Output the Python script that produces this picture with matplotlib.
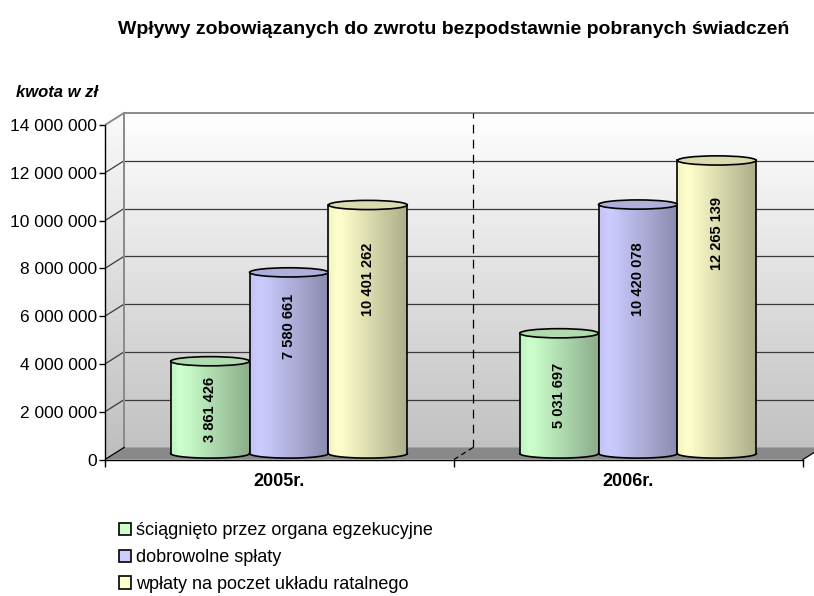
import numpy as np
import matplotlib
matplotlib.use('Agg')
import matplotlib.pyplot as plt
from matplotlib.patches import Polygon, Ellipse, PathPatch, Rectangle
from matplotlib.path import Path

# ---- data ----
categories = ['2005r.', '2006r.']
series_names = ['ściągnięto przez organa egzekucyjne',
                'dobrowolne spłaty',
                'wpłaty na poczet układu ratalnego']
egzekucja = [3861426, 5031697]
dobrowolne = [7580661, 10420078]
ratalne = [10401262, 12265139]
y_ticks = [0, 2000000, 4000000, 6000000, 8000000, 10000000, 12000000, 14000000]
title = 'Wpływy zobowiązanych do zwrotu bezpodstawnie pobranych świadczeń'
y_label = 'kwota w zł'
colors = ['#CCFFCC', '#CCCCFF', '#FFFFCC']

plt.rcParams['font.family'] = ['Liberation Sans', 'DejaVu Sans']

W, H = 814, 596
fig = plt.figure(figsize=(W / 100, H / 100), dpi=100)

# front plane pixel mapping
fx0, fx1 = 105.0, 803.0          # x of category 0 and 2 (front)
fy0, fy1 = 459.5, 125.0          # y (from top) of 0 and 14M (front)
pxx = 2.0 / (fx1 - fx0)
pxy = 14e6 / (fy0 - fy1)
DX = 19 * pxx
DY = 12 * pxy

ax_left_px, ax_right_px = fx0, W
ax_top_px, ax_bot_px = 95.0, 475.0
ax = fig.add_axes([ax_left_px / W, 1 - ax_bot_px / H,
                   (ax_right_px - ax_left_px) / W, (ax_bot_px - ax_top_px) / H])
xlim = (0, (ax_right_px - fx0) * pxx)
ylim = (-(ax_bot_px - fy0) * pxy, (fy0 - ax_top_px) * pxy)
ax.patch.set_visible(False)

ymax = y_ticks[-1]

# ---- back wall gradient ----
grad = np.linspace(1.0, 0.76, 256)[:, None]
wall = np.dstack([grad, grad, grad])
ax.imshow(wall, extent=[DX, xlim[1] + 0.1, DY, ymax + DY], aspect='auto',
          interpolation='bilinear', zorder=0)
side = Polygon([(0, 0), (DX, DY), (DX, ymax + DY), (0, ymax)], closed=True,
               facecolor='none', edgecolor='none', transform=ax.transData)
ax.add_patch(side)
im = ax.imshow(wall * 0.98, extent=[0, DX, 0, ymax + DY], aspect='auto',
               interpolation='bilinear', zorder=0)
im.set_clip_path(side)

for v in y_ticks[1:]:
    col = '#8a8a8a' if v == ymax else '#3a3a3a'
    lw = 1.4 if v == ymax else 0.9
    ax.plot([DX, xlim[1] + 0.1], [v + DY, v + DY], color=col, lw=lw, zorder=1)
    ax.plot([0, DX], [v, v + DY], color=col, lw=lw, zorder=1)
ax.plot([DX, DX], [DY, ymax + DY], color='#8a8a8a', lw=1.4, zorder=1)
ax.plot([1 + DX, 1 + DX], [DY, ymax + DY], color='black', lw=0.9,
        dashes=(7, 5), zorder=1)

# ---- floor ----
floor = Polygon([(0, 0), (2, 0), (2 + DX, DY), (DX, DY)], closed=True,
                facecolor='#898989', edgecolor='none', zorder=2)
ax.add_patch(floor)
ax.plot([2, 2 + DX], [0, DY], color='black', lw=0.9, zorder=2)
ax.plot([1, 1 + DX], [0, DY], color='black', lw=0.9, dashes=(4, 3), zorder=2)
ax.plot([0, DX], [0, DY], color='black', lw=0.9, zorder=2)

# ---- cylinders ----
series = [egzekucja, dobrowolne, ratalne]
bw = 0.226
b_ell = 4.6 * pxy
t = np.linspace(0, 1, 200)
prof = np.interp(t, [0, 0.12, 0.2, 1.0], [0.95, 1.0, 0.98, 0.68])


def rgb(h):
    h = h.lstrip('#')
    return np.array([int(h[i:i + 2], 16) / 255 for i in (0, 2, 4)])


z = 5
for ci, cat in enumerate(categories):
    for si, vals in enumerate(series):
        v = vals[ci]
        xc = ci + 0.5 + (si - 1) * bw + DX / 2
        xl, xr = xc - bw / 2, xc + bw / 2
        yb = DY / 2
        yt = v + DY / 2
        a = bw / 2
        th = np.linspace(np.pi, 2 * np.pi, 60)
        arc = np.column_stack([xc + a * np.cos(th), yb + b_ell * np.sin(th)])
        verts = np.vstack([[xl, yt], [xl, yb], arc, [xr, yb], [xr, yt], [xl, yt]])
        codes = [Path.MOVETO] + [Path.LINETO] * (len(verts) - 2) + [Path.CLOSEPOLY]
        body = PathPatch(Path(verts, codes), facecolor='none', edgecolor='none',
                         zorder=z)
        ax.add_patch(body)
        base = rgb(colors[si])
        img = np.clip(prof[:, None] * base[None, :], 0, 1)[None, :, :]
        bim = ax.imshow(img, extent=[xl, xr, yb - b_ell, yt], aspect='auto',
                        interpolation='bilinear', zorder=z)
        bim.set_clip_path(body)
        ax.plot([xl, xl], [yb, yt], color='black', lw=1.2, zorder=z + 0.1)
        ax.plot([xr, xr], [yb, yt], color='black', lw=1.2, zorder=z + 0.1)
        ax.plot(arc[:, 0], arc[:, 1], color='black', lw=1.2, zorder=z + 0.1)
        top = Ellipse((xc, yt), 2 * a, 2 * b_ell,
                      facecolor=np.clip(base * 0.86, 0, 1), edgecolor='black',
                      lw=1.2, zorder=z + 0.2)
        ax.add_patch(top)
        frac = 0.48 if v < 6e6 else (0.70 if v < 11e6 else 0.75)
        ax.text(xc, v * frac + DY / 2, f'{v:,}'.replace(',', ' '),
                rotation=90, ha='center', va='center', fontsize=10.5,
                fontweight='bold', zorder=z + 0.3)
        z += 1

# ---- axes, ticks ----
ax.set_xlim(*xlim)
ax.set_ylim(*ylim)
for s in ['top', 'right']:
    ax.spines[s].set_visible(False)
ax.spines['left'].set_bounds(0, ymax)
ax.spines['bottom'].set_bounds(0, 2)
ax.spines['bottom'].set_position(('data', 0))
for s in ['left', 'bottom']:
    ax.spines[s].set_linewidth(1.0)
    ax.spines[s].set_zorder(3)
ax.set_yticks(y_ticks)
ax.set_yticklabels([f'{int(v):,}'.replace(',', ' ') for v in y_ticks])
ax.tick_params(axis='y', direction='out', length=4, width=1, pad=2,
               labelsize=12.5)
ax.set_xticks([0, 1, 2])
ax.set_xticklabels(['', '', ''])
ax.set_xticks([0.5, 1.5], minor=True)
ax.set_xticklabels(categories, minor=True, fontweight='bold', fontsize=13)
ax.tick_params(axis='x', which='major', direction='out', length=5, width=1)
ax.tick_params(axis='x', which='minor', length=0, pad=10)

# ---- texts ----
fig.text(454 / W, 1 - 34.5 / H, title, ha='center', va='baseline',
         fontsize=14, fontweight='bold')
fig.text(16 / W, 1 - 97 / H, y_label, ha='left', va='baseline',
         fontsize=12, fontweight='bold', style='italic')

# ---- legend ----
handles = [Rectangle((0, 0), 1, 1, facecolor=c, edgecolor='black', lw=1.2)
           for c in colors]
fig.legend(handles, series_names, loc='upper left',
           bbox_to_anchor=(119 / W, 1 - 522 / H), frameon=False, fontsize=13,
           handlelength=0.65, handleheight=0.65, handletextpad=0.3,
           labelspacing=0.55, borderaxespad=0, borderpad=0)

fig.savefig('out.png', dpi=100)
